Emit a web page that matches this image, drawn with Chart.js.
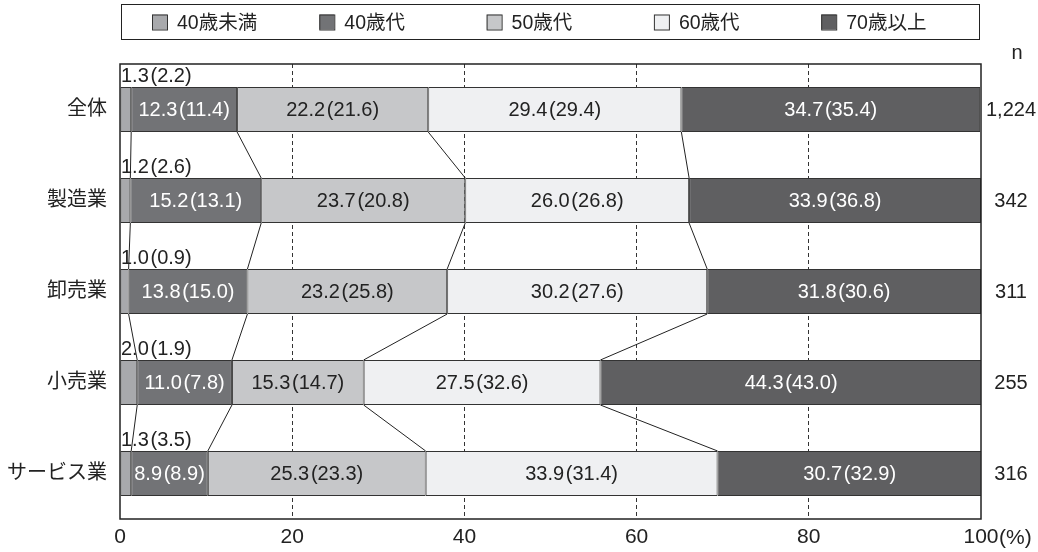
<!doctype html>
<html lang="ja">
  <head>
    <meta charset="utf-8" />
    <title>年齢構成</title>
    <style>
      html, body { margin: 0; padding: 0; background: #fff; }
      #chartBox { width: 1038px; height: 552px; }
    </style>
  </head>
  <body>
    <div id="chartBox">
      <canvas id="myChart" width="1038" height="552"></canvas>
    </div>
    <script src="https://cdn.jsdelivr.net/npm/chart.js/dist/chart.umd.min.js"></script>
    <script>
      const FONT = '"Liberation Sans", Arial, "Noto Sans CJK JP", sans-serif';

      const categories = ["全体", "製造業", "卸売業", "小売業", "サービス業"];
      const seriesNames = ["40歳未満", "40歳代", "50歳代", "60歳代", "70歳以上"];
      const nValues = ["1,224", "342", "311", "255", "316"];
      const xTicks = [0, 20, 40, 60, 80, 100];

      // current values
      const under40 = [1.3, 1.2, 1.0, 2.0, 1.3];
      const age40s = [12.3, 15.2, 13.8, 11.0, 8.9];
      const age50s = [22.2, 23.7, 23.2, 15.3, 25.3];
      const age60s = [29.4, 26.0, 30.2, 27.5, 33.9];
      const over70 = [34.7, 33.9, 31.8, 44.3, 30.7];

      // values in brackets (previous survey)
      const prevUnder40 = [2.2, 2.6, 0.9, 1.9, 3.5];
      const prev40s = [11.4, 13.1, 15.0, 7.8, 8.9];
      const prev50s = [21.6, 20.8, 25.8, 14.7, 23.3];
      const prev60s = [29.4, 26.8, 27.6, 32.6, 31.4];
      const prev70 = [35.4, 36.8, 30.6, 43.0, 32.9];

      const colors = ["#a8a9ac", "#727376", "#c6c7c9", "#eff0f2", "#5f5f61"];
      const textColors = ["#222", "#fff", "#222", "#222", "#fff"];

      const current = [under40, age40s, age50s, age60s, over70];
      const previous = [prevUnder40, prev40s, prev50s, prev60s, prev70];

      const fmt = (v, p) => v.toFixed(1) + "\u200a(" + p.toFixed(1) + ")";

      const data = {
        labels: categories,
        datasets: current.map((vals, i) => ({
          label: seriesNames[i],
          data: vals,
          backgroundColor: colors[i],
          borderColor: "#333",
          borderWidth: 1,
          borderSkipped: false,
          categoryPercentage: 1,
          barPercentage: 0.495,
        })),
      };

      // legend box, value labels, connector lines, frame, n column
      const extras = {
        id: "extras",
        afterDatasetsDraw(chart) {
          const {
            ctx,
            chartArea: { top, bottom, left, right },
          } = chart;
          const metas = chart.data.datasets.map((d, i) => chart.getDatasetMeta(i));

          ctx.save();

          // connector lines between bars
          ctx.strokeStyle = "#222";
          ctx.lineWidth = 1;
          for (let s = 0; s < metas.length - 1; s++) {
            const bars = metas[s].data;
            for (let c = 0; c < bars.length - 1; c++) {
              const a = bars[c];
              const b = bars[c + 1];
              ctx.beginPath();
              ctx.moveTo(a.x, a.y + a.height / 2);
              ctx.lineTo(b.x, b.y - b.height / 2);
              ctx.stroke();
            }
          }

          // value labels
          ctx.font = "20px " + FONT;
          ctx.textBaseline = "middle";
          metas.forEach((meta, s) => {
            meta.data.forEach((bar, c) => {
              const txt = fmt(current[s][c], previous[s][c]);
              if (s === 0) {
                ctx.fillStyle = "#222";
                ctx.textAlign = "left";
                ctx.fillText(txt, left + 1, bar.y - bar.height / 2 - 10);
              } else {
                ctx.fillStyle = textColors[s];
                ctx.textAlign = "center";
                ctx.fillText(txt, (bar.x + bar.base) / 2, bar.y + 1);
              }
            });
          });

          // n column
          ctx.fillStyle = "#222";
          ctx.textAlign = "center";
          ctx.fillText("n", right + 36, top - 11);
          metas[0].data.forEach((bar, c) => {
            ctx.fillText(nValues[c], right + 30, bar.y + 1);
          });

          // frame
          ctx.strokeStyle = "#222";
          ctx.lineWidth = 1.5;
          ctx.strokeRect(left, top, right - left, bottom - top);

          // legend
          const lgTop = 4;
          const lgH = 35;
          ctx.lineWidth = 1;
          ctx.strokeRect(left + 1.5, lgTop + 0.5, right - left - 3, lgH);
          ctx.font = "19.5px " + FONT;
          seriesNames.forEach((name, i) => {
            const sx = left + 32 + i * 167.3;
            const sy = lgTop + lgH / 2 - 7;
            ctx.fillStyle = colors[i];
            ctx.fillRect(sx, sy, 15, 15);
            ctx.strokeStyle = "#333";
            ctx.strokeRect(sx + 0.5, sy + 0.5, 15, 15);
            ctx.fillStyle = "#222";
            ctx.textAlign = "left";
            ctx.fillText(name, sx + 25, lgTop + lgH / 2 + 2);
          });

          // unit after the 100 tick
          const xs = chart.scales.x;
          ctx.font = "21px " + FONT;
          ctx.textAlign = "left";
          ctx.fillText("(%)", xs.getPixelForValue(100) + 18, 538);

          ctx.restore();
        },
      };

      const config = {
        type: "bar",
        data,
        options: {
          indexAxis: "y",
          responsive: false,
          animation: false,
          layout: { padding: { top: 64, right: 57, left: 0, bottom: 0 } },
          scales: {
            x: {
              stacked: true,
              min: 0,
              max: 100,
              afterBuildTicks: (s) => {
                s.ticks = xTicks.map((v) => ({ value: v }));
              },
              afterFit: (s) => {
                s.height = 33;
              },
              ticks: {
                color: "#222",
                font: { family: FONT, size: 21 },
                padding: 6,
                maxRotation: 0,
              },
              grid: {
                drawTicks: false,
                color: (ctx) =>
                  ctx.tick && (ctx.tick.value === 0 || ctx.tick.value === 100)
                    ? "rgba(0,0,0,0)"
                    : "#333",
                lineWidth: 1,
              },
              border: { display: false, dash: [4, 3] },
            },
            y: {
              stacked: true,
              afterFit: (s) => {
                s.width = 120;
              },
              ticks: {
                color: "#222",
                font: { family: FONT, size: 20 },
                padding: 13,
              },
              grid: { display: false, drawTicks: false },
              border: { display: false },
            },
          },
          plugins: {
            legend: { display: false },
            tooltip: { enabled: false },
          },
        },
        plugins: [extras],
      };

      const myChart = new Chart(document.getElementById("myChart"), config);
    </script>
  </body>
</html>
